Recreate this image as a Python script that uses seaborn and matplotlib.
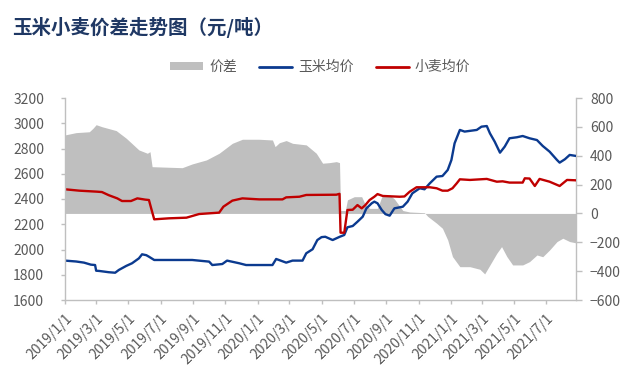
import matplotlib
matplotlib.use("Agg")
import numpy as np
import pandas as pd
import seaborn as sns
import matplotlib.pyplot as plt
import matplotlib.dates as mdates
from matplotlib.patches import Patch
from matplotlib.lines import Line2D
from matplotlib.ticker import FuncFormatter

# ---------------- data ----------------
title = "玉米小麦价差走势图（元/吨）"
series_names = ["价差", "玉米均价", "小麦均价"]

wheat_dates = ["2019-01-01", "2019-01-28", "2019-03-03", "2019-03-12", "2019-03-25", "2019-04-10",
               "2019-04-19", "2019-05-06", "2019-05-18", "2019-06-02", "2019-06-09", "2019-06-13",
               "2019-06-19", "2019-07-17", "2019-08-19", "2019-09-12", "2019-10-20", "2019-10-28",
               "2019-11-14", "2019-12-03", "2020-01-04", "2020-02-17", "2020-02-24", "2020-03-20",
               "2020-04-02", "2020-05-29", "2020-06-04", "2020-06-06", "2020-06-13", "2020-06-19",
               "2020-06-29", "2020-07-08", "2020-07-16", "2020-07-23", "2020-07-31", "2020-08-09",
               "2020-08-15", "2020-08-25", "2020-09-26", "2020-10-05", "2020-10-15", "2020-10-28",
               "2020-11-22", "2020-12-05", "2020-12-16", "2020-12-26", "2021-01-04", "2021-01-12",
               "2021-01-18", "2021-02-06", "2021-03-10", "2021-03-29", "2021-04-09", "2021-04-22",
               "2021-05-17", "2021-05-21", "2021-05-30", "2021-06-09", "2021-06-18", "2021-07-07",
               "2021-07-26", "2021-08-09", "2021-08-26"]
wheat_price = [2477, 2466, 2458, 2455, 2430, 2405,
               2384, 2384, 2405, 2395, 2392, 2330,
               2239, 2247, 2252, 2281, 2292, 2339,
               2387, 2405, 2397, 2397, 2413, 2418,
               2432, 2434, 2441, 2133, 2133, 2313,
               2315, 2352, 2326, 2352, 2392, 2418,
               2439, 2424, 2418, 2420, 2458, 2493,
               2493, 2485, 2466, 2466, 2485, 2524,
               2556, 2551, 2559, 2537, 2540, 2530,
               2530, 2564, 2562, 2503, 2559, 2537,
               2503, 2551, 2548]

corn_dates = ["2019-01-01", "2019-01-22", "2019-02-06", "2019-02-19", "2019-02-27", "2019-03-01",
              "2019-03-07", "2019-03-25", "2019-04-06", "2019-04-13", "2019-04-27", "2019-05-08",
              "2019-05-21", "2019-05-27", "2019-06-04", "2019-06-09", "2019-06-19", "2019-07-17",
              "2019-08-30", "2019-10-01", "2019-10-07", "2019-10-26", "2019-11-04", "2019-11-27",
              "2019-12-10", "2020-01-29", "2020-02-05", "2020-02-24", "2020-03-07", "2020-03-26",
              "2020-04-02", "2020-04-14", "2020-04-23", "2020-05-01", "2020-05-08", "2020-05-22",
              "2020-06-04", "2020-06-13", "2020-06-19", "2020-06-29", "2020-07-08", "2020-07-18",
              "2020-07-25", "2020-08-04", "2020-08-09", "2020-08-15", "2020-08-23", "2020-08-30",
              "2020-09-07", "2020-09-16", "2020-10-02", "2020-10-11", "2020-10-20", "2020-11-03",
              "2020-11-12", "2020-11-22", "2020-12-05", "2020-12-16", "2020-12-26", "2021-01-02",
              "2021-01-08", "2021-01-18", "2021-01-27", "2021-02-19", "2021-02-28", "2021-03-10",
              "2021-03-16", "2021-03-25", "2021-04-04", "2021-04-13", "2021-04-22", "2021-05-06",
              "2021-05-17", "2021-05-30", "2021-06-13", "2021-06-24", "2021-07-07", "2021-07-21",
              "2021-07-26", "2021-08-05", "2021-08-14", "2021-08-26"]
corn_price = [1912, 1905, 1896, 1880, 1877, 1832,
              1830, 1820, 1816, 1838, 1870, 1891,
              1930, 1962, 1955, 1943, 1917, 1917,
              1917, 1904, 1877, 1885, 1912, 1891,
              1877, 1877, 1925, 1896, 1912, 1912,
              1970, 2002, 2075, 2098, 2101, 2075,
              2100, 2115, 2176, 2186, 2220, 2260,
              2326, 2366, 2379, 2366, 2313, 2280,
              2268, 2326, 2339, 2379, 2445, 2485,
              2477, 2524, 2577, 2582, 2630, 2709,
              2841, 2947, 2934, 2947, 2973, 2978,
              2920, 2854, 2767, 2815, 2881, 2889,
              2899, 2881, 2867, 2820, 2775, 2709,
              2688, 2715, 2749, 2741]

spread_dates = ["2019-01-01", "2019-01-22", "2019-02-16", "2019-02-23", "2019-03-01", "2019-03-12",
                "2019-04-08", "2019-04-27", "2019-05-21", "2019-06-06", "2019-06-11", "2019-06-15",
                "2019-07-17", "2019-08-11", "2019-08-30", "2019-09-26", "2019-10-20", "2019-11-14",
                "2019-12-03", "2020-01-04", "2020-01-29", "2020-02-03", "2020-02-11", "2020-02-24",
                "2020-03-07", "2020-04-02", "2020-04-21", "2020-05-03", "2020-05-16", "2020-05-29",
                "2020-06-04", "2020-06-06", "2020-06-15", "2020-06-19", "2020-07-02", "2020-07-16",
                "2020-07-23", "2020-07-31", "2020-08-15", "2020-08-23", "2020-09-07", "2020-09-16",
                "2020-10-02", "2020-10-15", "2020-11-12", "2020-11-18", "2020-12-05", "2020-12-16",
                "2020-12-26", "2021-01-04", "2021-01-18", "2021-02-06", "2021-02-25", "2021-03-06",
                "2021-03-16", "2021-03-29", "2021-04-07", "2021-04-17", "2021-04-28", "2021-05-17",
                "2021-05-30", "2021-06-13", "2021-06-24", "2021-07-07", "2021-07-21", "2021-08-01",
                "2021-08-14", "2021-08-26"]
spread_value = [544, 560, 566, 590, 615, 601,
                574, 521, 440, 417, 428, 324,
                320, 317, 343, 371, 417, 486,
                514, 514, 509, 463, 490, 505,
                486, 475, 417, 348, 352, 359,
                352, 20, 20, 94, 116, 116,
                60, 35, 35, 115, 128, 100,
                20, 10, 5, -20, -68, -103,
                -184, -299, -369, -369, -387, -419,
                -357, -276, -230, -299, -357, -357,
                -334, -288, -300, -253, -195, -172,
                -195, -204]

left_ticks = [1600, 1800, 2000, 2200, 2400, 2600, 2800, 3000, 3200]
right_ticks = [-600, -400, -200, 0, 200, 400, 600, 800]

# ---------------- style ----------------
sns.set_theme(style="white")
plt.rcParams["font.family"] = ["Noto Sans CJK SC", "DejaVu Sans"]
plt.rcParams["axes.unicode_minus"] = True

GRAY_TXT = "#595959"
SPINE = "#BFBFBF"
BLUE = "#0B3A8F"
RED = "#C00000"
AREA = "#BFBFBF"

wheat = pd.DataFrame({"date": pd.to_datetime(wheat_dates), "price": wheat_price})
corn = pd.DataFrame({"date": pd.to_datetime(corn_dates), "price": corn_price})
spread = pd.DataFrame({"date": pd.to_datetime(spread_dates), "value": spread_value})

fig = plt.figure(figsize=(6.4, 3.84), dpi=100)
ax = fig.add_axes([65 / 640, 1 - 300 / 384, (576 - 65) / 640, (300 - 98) / 384])
ax2 = ax.twinx()

ax2.fill_between(spread["date"], 0, spread["value"], color=AREA, lw=0)
ax.set_zorder(ax2.get_zorder() + 1)
ax.patch.set_visible(False)

sns.lineplot(data=corn, x="date", y="price", ax=ax, color=BLUE, lw=1.7, legend=False)
sns.lineplot(data=wheat, x="date", y="price", ax=ax, color=RED, lw=1.7, legend=False)

ax.set_ylim(1600, 3200)
ax.set_yticks(left_ticks)
ax2.set_ylim(-600, 800)
ax2.set_yticks(right_ticks)
ax.set_xlim(pd.Timestamp("2019-01-01"), pd.Timestamp("2021-08-26"))
ax.set_xlabel("")
ax.set_ylabel("")
ax2.set_ylabel("")

ax.xaxis.set_major_locator(mdates.MonthLocator(bymonth=[1, 3, 5, 7, 9, 11]))
ax.xaxis.set_major_formatter(FuncFormatter(
    lambda v, p: "{0}/{1}/{2}".format(mdates.num2date(v).year, mdates.num2date(v).month, mdates.num2date(v).day)))

for a in (ax, ax2):
    a.spines["top"].set_visible(False)
    for s in ("left", "right", "bottom"):
        a.spines[s].set_color(SPINE)
        a.spines[s].set_linewidth(1.0)
ax.spines["right"].set_visible(False)
ax2.spines["left"].set_visible(False)
ax2.spines["bottom"].set_visible(False)

ax.tick_params(axis="y", direction="out", length=3, width=1, color=SPINE,
               labelcolor=GRAY_TXT, labelsize=10, pad=12, left=True)
ax2.tick_params(axis="y", direction="out", length=4, width=1, color=SPINE,
                labelcolor=GRAY_TXT, labelsize=10, pad=6, right=True)
ax.tick_params(axis="x", direction="out", length=3, width=1, color=SPINE,
               labelcolor=GRAY_TXT, labelsize=10, pad=5, bottom=True)
for lab in ax.get_xticklabels():
    lab.set_rotation(45)
    lab.set_ha("right")
    lab.set_va("top")
    lab.set_rotation_mode("anchor")

ax.grid(False)
ax2.grid(False)

fig.text(12 / 640, 1 - 27 / 384, title, fontsize=14, fontweight="bold",
         color="#1F3864", va="center", ha="left")

handles = [Patch(facecolor=AREA, edgecolor="none"),
           Line2D([], [], color=BLUE, lw=2),
           Line2D([], [], color=RED, lw=2)]
fig.legend(handles, series_names, loc="center", bbox_to_anchor=(0.5, 1 - 67 / 384),
           ncol=3, frameon=False, fontsize=10, handlelength=2.4, handleheight=0.5,
           columnspacing=1.6, handletextpad=0.4, labelcolor=GRAY_TXT)

fig.savefig("out.png", dpi=100)
